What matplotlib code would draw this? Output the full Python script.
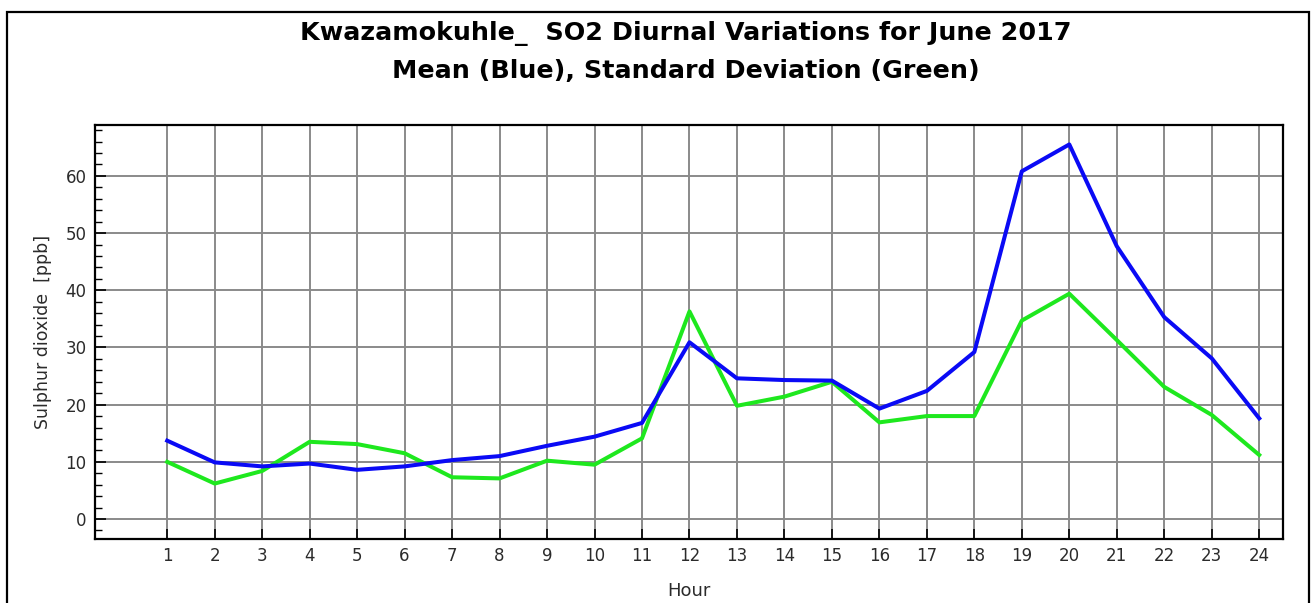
import matplotlib
matplotlib.use("Agg")
import matplotlib.pyplot as plt
from matplotlib.patches import Rectangle
from matplotlib.ticker import MultipleLocator

# hourly SO2 values
hours = list(range(1, 25))
mean_so2 = [13.7, 9.9, 9.2, 9.7, 8.6, 9.2, 10.3, 11.0, 12.8, 14.4, 16.8, 30.9,
            24.6, 24.3, 24.2, 19.3, 22.4, 29.2, 60.8, 65.5, 47.7, 35.3, 28.1, 17.6]
std_so2 = [10.0, 6.2, 8.4, 13.5, 13.1, 11.5, 7.3, 7.1, 10.2, 9.5, 14.1, 36.3,
           19.8, 21.4, 24.0, 16.9, 18.0, 18.0, 34.7, 39.4, 31.3, 23.1, 18.2, 11.2]
y_ticks = [0, 10, 20, 30, 40, 50, 60]

TEXT_COLOR = "#2b2b2b"
GRID_COLOR = "#8a8a8a"

plt.rcParams["font.family"] = ["DejaVu Sans"]

fig = plt.figure(figsize=(13.11, 6.03), dpi=100)
ax = fig.add_axes([0.0725, 0.1061, 0.9061, 0.6866])

ax.plot(hours, std_so2, color="#1ee81e", linewidth=2.9, zorder=3)
ax.plot(hours, mean_so2, color="#0a0af5", linewidth=2.9, zorder=4)

ax.set_xlim(-0.52, 24.5)
ax.set_ylim(-3.5, 68.9)
ax.set_xticks(hours)
ax.set_yticks(y_ticks)
ax.yaxis.set_minor_locator(MultipleLocator(2))
ax.grid(True, which="major", color=GRID_COLOR, linewidth=1.4)
ax.set_axisbelow(True)

ax.tick_params(axis="both", which="both", direction="in", colors="black",
               labelcolor=TEXT_COLOR, labelsize=12)
ax.tick_params(axis="y", which="major", length=8, width=1.2, pad=6)
ax.tick_params(axis="y", which="minor", length=5, width=1.0)
ax.tick_params(axis="x", which="major", length=7, width=1.2, pad=6)
for sp in ax.spines.values():
    sp.set_linewidth(1.6)

ax.set_xlabel("Hour", fontsize=13, color=TEXT_COLOR, labelpad=12)
ax.set_ylabel("Sulphur dioxide  [ppb]", fontsize=12.5, color=TEXT_COLOR, labelpad=10)

fig.text(0.523, 0.945, "Kwazamokuhle_  SO2 Diurnal Variations for June 2017",
         ha="center", va="center", fontsize=18.3, fontweight="bold", color="black")
fig.text(0.523, 0.882, "Mean (Blue), Standard Deviation (Green)",
         ha="center", va="center", fontsize=18.3, fontweight="bold", color="black")

# outer frame of the original export
fig.patches.append(Rectangle((7 / 1311, -0.1), 1302 / 1311, 1.1 - 12 / 603,
                             transform=fig.transFigure, fill=False,
                             edgecolor="black", linewidth=1.6))

fig.savefig("out.png", dpi=100, facecolor="white")
